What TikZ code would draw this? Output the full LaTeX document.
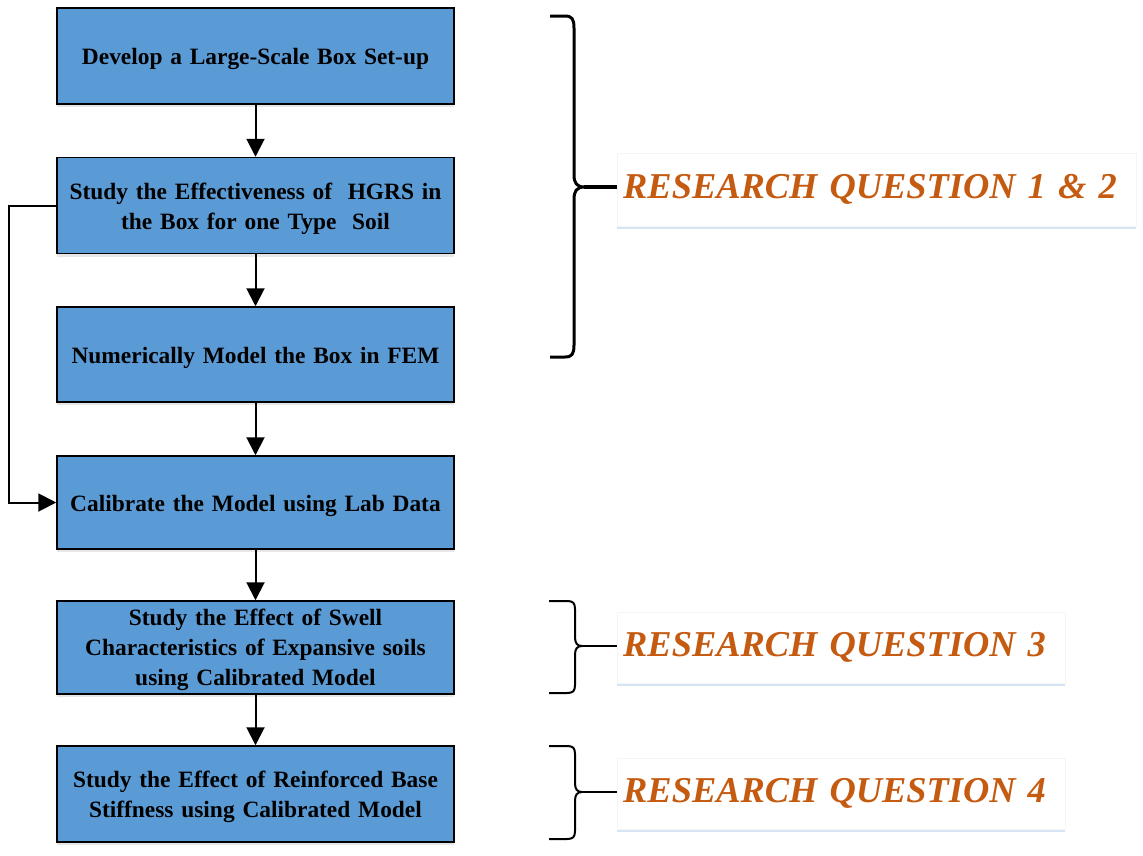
\documentclass[tikz,border=0pt]{standalone}
\usepackage{fontspec}
\setmainfont{Liberation Serif}
\usetikzlibrary{arrows.meta,shadows,calc}
\definecolor{boxblue}{HTML}{5B9BD5}
\definecolor{rqorange}{HTML}{C55A11}
\definecolor{shadowblue}{HTML}{D3E2F4}
\begin{document}
\begin{tikzpicture}[x=1pt,y=-1pt,
  flowbox/.style={draw=black, line width=1.5pt, fill=boxblue, minimum width=397pt,
    inner sep=0pt,
    drop shadow={shadow xshift=0pt, shadow yshift=-3pt, opacity=0.3, fill=gray!60}},
  boxtext/.style={inner sep=0pt, align=center, text width=390pt,
    font=\bfseries\fontsize{23.4}{30}\selectfont},
  flowarrow/.style={line width=2pt, -{Triangle[width=18pt,length=18pt]}},
  rqlabel/.style={fill=white, draw=gray!8, inner xsep=6pt, inner ysep=0pt, align=left,
    text=rqorange, font=\bfseries\itshape\fontsize{36.4}{40}\selectfont,
    drop shadow={shadow xshift=0pt, shadow yshift=-2.5pt, opacity=0.9, fill=shadowblue}},
  bracestyle/.style={line width=#1, line join=round}
]
\useasboundingbox (0,0) rectangle (1143,855);
\fill[white] (0,0) rectangle (1143,855);

% flow boxes
\node[flowbox, minimum height=96pt] (b1) at (255.5,56) {};
\node[flowbox, minimum height=96pt] (b2) at (255.5,205.5) {};
\node[flowbox, minimum height=95pt] (b3) at (255.5,354.5) {};
\node[flowbox, minimum height=93pt] (b4) at (255.5,502.5) {};
\node[flowbox, minimum height=93pt] (b5) at (255.5,647.5) {};
\node[flowbox, minimum height=96pt] (b6) at (255.5,794) {};

\node[boxtext] (t1) at ($(b1.center)+(0,3)$) {Develop a Large-Scale Box Set-up};
\node[boxtext] (t2) at ($(b2.center)+(0,3)$) {Study the Effectiveness of~ HGRS in\\the Box for one Type~ Soil};
\node[boxtext] (t3) at ($(b3.center)+(0,3)$) {Numerically Model the Box in FEM};
\node[boxtext] (t4) at ($(b4.center)+(0,3)$) {Calibrate the Model using Lab Data};
\node[boxtext] (t5) at ($(b5.center)+(0,2.5)$) {Study the Effect of Swell\\Characteristics of Expansive soils\\using Calibrated Model};
\node[boxtext] (t6) at ($(b6.center)+(0,3)$) {Study the Effect of Reinforced Base\\Stiffness using Calibrated Model};

% arrows
\draw[flowarrow] (b1) -- (b2);
\draw[flowarrow] (b2) -- (b3);
\draw[flowarrow] (b3) -- (b4);
\draw[flowarrow] (b4) -- (b5);
\draw[flowarrow] (b5) -- (b6);
\draw[flowarrow] (b2.west) -- ++(-47,0) |- (b4.west);

% research question labels
\node[rqlabel, text width=507pt, minimum height=73pt, anchor=west] (rq12) at (617,189.5) {RESEARCH QUESTION 1 \& 2};
\node[rqlabel, text width=436pt, minimum height=71pt, anchor=west] (rq3) at (617,647.5) {RESEARCH QUESTION 3};
\node[rqlabel, text width=436pt, minimum height=71pt, anchor=west] (rq4) at (617,793.5) {RESEARCH QUESTION 4};

% braces
\draw[bracestyle=3pt] (550,16) -- (565,16) .. controls (572,16) and (574,19) .. (574,28)
  -- (574,175) .. controls (574,183) and (577,187) .. (584,187)
  .. controls (577,187) and (574,191) .. (574,199)
  -- (574,345) .. controls (574,354) and (572,357) .. (565,357) -- (550,357);
\draw[line width=3.5pt] (584,187) -- (rq12.west |- 0,187);

\draw[bracestyle=2pt] (549,601) -- (567,601) .. controls (573,601) and (575,603) .. (575,609)
  -- (575,637) .. controls (575,643) and (577,646) .. (582,646)
  .. controls (577,646) and (575,649) .. (575,655)
  -- (575,685) .. controls (575,691) and (573,693) .. (567,693) -- (549,693);
\draw[line width=2pt] (582,646) -- (rq3.west |- 0,646);

\draw[bracestyle=2pt] (549,746) -- (567,746) .. controls (573,746) and (575,748) .. (575,754)
  -- (575,783) .. controls (575,789) and (577,792) .. (582,792)
  .. controls (577,792) and (575,795) .. (575,801)
  -- (575,831) .. controls (575,837) and (573,839) .. (567,839) -- (549,839);
\draw[line width=2pt] (582,792) -- (rq4.west |- 0,792);
\end{tikzpicture}
\end{document}
